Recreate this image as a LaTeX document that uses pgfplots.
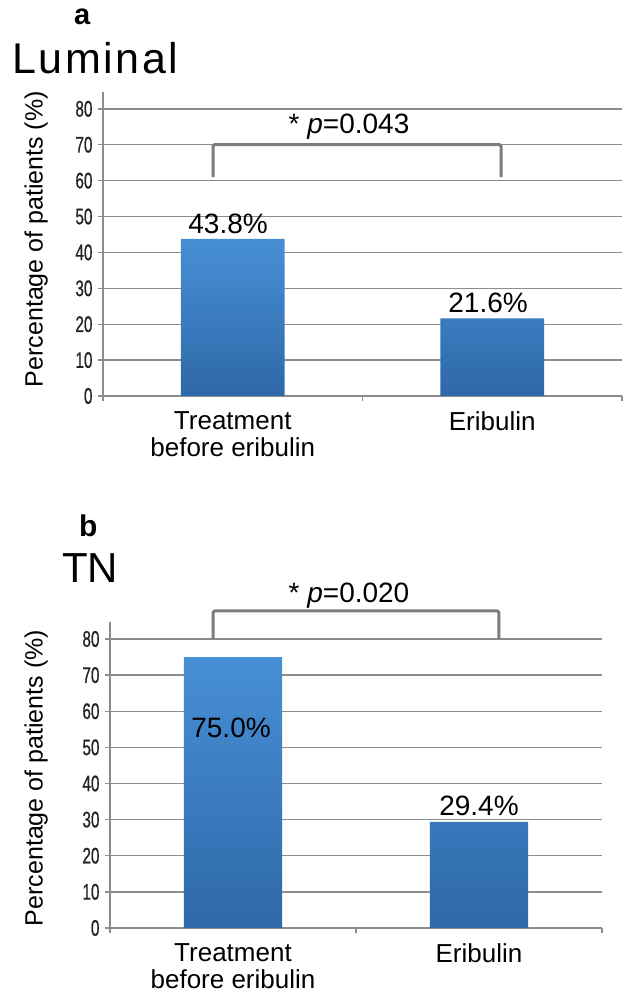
\documentclass[border=0pt]{standalone}
\usepackage{fontspec}
\setmainfont{Liberation Sans}
\newfontfamily\narrowsans[FakeStretch=0.68, FakeBold=0.6]{Liberation Sans}
\newfontfamily\spacedsans[LetterSpace=6]{Liberation Sans}
\usepackage{pgfplots}
\pgfplotsset{compat=1.18}

\definecolor{gridgray}{RGB}{140,140,140}
\definecolor{brgray}{RGB}{125,125,125}
\definecolor{bartop}{RGB}{72,143,214}
\definecolor{barbot}{RGB}{46,104,168}
\definecolor{tickcol}{RGB}{35,35,35}

\tikzset{
  vlab/.style={font=\fontsize{28}{28}\selectfont, anchor=base, inner sep=0pt},
  bracket/.style={brgray, line width=3pt, rounded corners=1.5pt},
}

\pgfplotsset{
  panel/.style={
    scale only axis,
    xmin=-0.5, xmax=1.5, ymin=0, ymax=84.7,
    axis x line=bottom, axis y line=left,
    axis line style={gridgray, line width=1.4pt, -},
    ytick={0,10,...,80},
    ymajorgrids,
    grid style={gridgray, line width=1.4pt},
    tick style={gridgray, line width=1.4pt},
    tick align=outside,
    major tick length=5pt,
    xtick={-0.5,0.5,1.5},
    xticklabels={,,},
    extra x ticks={0,1},
    extra x tick labels={Treatment\\before eribulin, Eribulin},
    extra x tick style={major tick length=0pt},
    xticklabel style={font=\fontsize{26}{27}\selectfont, align=center,
      anchor=north, inner sep=0pt, yshift=-15pt},
    /pgf/number format/assume math mode=true,
    yticklabel style={font=\fontsize{22.5}{22.5}\narrowsans, text=tickcol, xshift=-2pt},
    ylabel={Percentage of patients (\%)},
    ylabel style={font=\fontsize{25}{25}\selectfont, rotate=0, anchor=center},
    clip=false,
  },
}

\begin{document}
\begin{tikzpicture}
\path[use as bounding box] (0pt,0pt) rectangle (627pt,1000pt);

% titles
\node[anchor=base west, inner sep=0pt, font=\fontsize{29}{29}\selectfont\bfseries] at (74pt,975pt) {a};
\node[anchor=base west, inner sep=0pt, font=\fontsize{43}{43}\spacedsans] at (12pt,926pt) {Luminal};
\node[anchor=base west, inner sep=0pt, font=\fontsize{30}{30}\selectfont\bfseries] at (79pt,463pt) {b};
\node[anchor=base west, inner sep=0pt, font=\fontsize{42}{42}\selectfont] at (62pt,417pt) {TN};

% panel a: Luminal
\begin{axis}[panel, at={(103pt,604pt)}, anchor=south west,
  width=519pt, height=304pt,
  ylabel style={at={(axis description cs:-0.129,0.516)}}]
\addplot[ybar, bar width=0.4, draw=none, top color=bartop, bottom color=barbot]
  coordinates {(0,43.8) (1,21.6)};
\node[vlab] at (axis cs:-0.018,45.4) {43.8\%};
\node[vlab] at (axis cs:0.984,23.2) {21.6\%};
\draw[bracket] (axis cs:-0.076,61) |- (axis cs:1.034,70) -- (axis cs:1.034,61);
\node[vlab] at (axis cs:0.448,73.0) {* \textit{p}=0.043};
\end{axis}

% panel b: TN
\begin{axis}[panel, at={(110pt,72pt)}, anchor=south west,
  width=492pt, height=306pt,
  ylabel style={at={(axis description cs:-0.150,0.49)}}]
\addplot[ybar, bar width=0.4, draw=none, top color=bartop, bottom color=barbot]
  coordinates {(0,75.0) (1,29.4)};
\node[vlab] at (axis cs:-0.008,52.8) {75.0\%};
\node[vlab] at (axis cs:1.0,31.2) {29.4\%};
\draw[bracket] (axis cs:-0.081,80) |- (axis cs:1.081,87.75) -- (axis cs:1.081,80);
\node[vlab] at (axis cs:0.4715,90.2) {* \textit{p}=0.020};
\end{axis}
\end{tikzpicture}
\end{document}
